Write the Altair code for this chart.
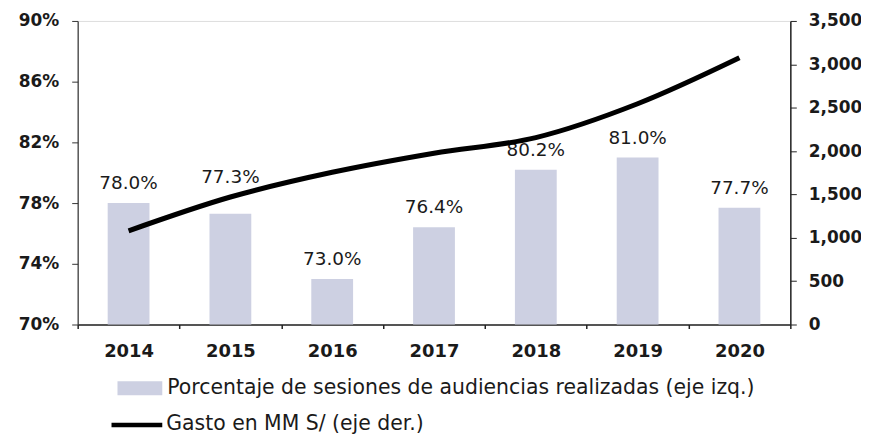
import altair as alt
import pandas as pd

years = ["2014", "2015", "2016", "2017", "2018", "2019", "2020"]
pct_sessions = [78.0, 77.3, 73.0, 76.4, 80.2, 81.0, 77.7]
gasto = [1080, 1470, 1755, 1975, 2155, 2545, 3075]
pct_labels = ["78.0%", "77.3%", "73.0%", "76.4%", "80.2%", "81.0%", "77.7%"]
left_ticks = [70, 74, 78, 82, 86, 90]
right_ticks = [0, 500, 1000, 1500, 2000, 2500, 3000, 3500]
legend_bar = "Porcentaje de sesiones de audiencias realizadas (eje izq.)"
legend_line = "Gasto en MM S/ (eje der.)"

df = pd.DataFrame({"year": years, "pct": pct_sessions, "gasto": gasto, "label": pct_labels})

FONT = "DejaVu Sans"
TXT = "#1a1a1a"
BAR = "#cdd0e2"

x = alt.X("year:N", title=None, sort=years,
          scale=alt.Scale(paddingInner=0, paddingOuter=0),
          axis=alt.Axis(labelAngle=0, labelFont=FONT, labelFontSize=18, labelFontWeight="bold",
                        labelColor=TXT, labelPadding=14, domainColor="#222", domainWidth=1.5,
                        tickBand="extent", tickSize=4, tickColor="#222", tickWidth=1.5))

y_left = alt.Y("pct:Q", title=None,
               scale=alt.Scale(domain=[70, 90], nice=False, zero=False, clamp=True),
               axis=alt.Axis(values=left_ticks, labelExpr="datum.value + '%'", labelFont=FONT,
                             labelFontSize=17, labelFontWeight="bold", labelColor=TXT,
                             labelPadding=13, tickSize=6, tickColor="#333", domainColor="#333",
                             domainWidth=1.2, grid=False))

bars = alt.Chart(df).mark_bar(size=42, color=BAR).encode(x=x, y=y_left)

text_common = dict(font=FONT, fontSize=18.5, color=TXT, baseline="bottom", align="center")
labels = alt.Chart(df).transform_filter("datum.year != '2015'").mark_text(dy=-10, **text_common).encode(
    x=alt.X("year:N", sort=years), y=alt.Y("pct:Q", scale=alt.Scale(domain=[70, 90], nice=False, zero=False)),
    text="label:N")
labels15 = alt.Chart(df).transform_filter("datum.year == '2015'").mark_text(dy=-27, **text_common).encode(
    x=alt.X("year:N", sort=years), y=alt.Y("pct:Q", scale=alt.Scale(domain=[70, 90], nice=False, zero=False)),
    text="label:N")

left = alt.layer(bars, labels, labels15)

line = alt.Chart(df).mark_line(color="#000000", strokeWidth=5, interpolate="monotone").encode(
    x=alt.X("year:N", sort=years),
    y=alt.Y("gasto:Q", title=None,
            scale=alt.Scale(domain=[0, 3500], nice=False),
            axis=alt.Axis(orient="right", values=right_ticks, format=",.0f", labelFont=FONT,
                          labelFontSize=17, labelFontWeight="bold", labelColor=TXT,
                          labelPadding=12, tickSize=6, tickColor="#222", domainColor="#222",
                          domainWidth=1.5, grid=False)))

leg_df = pd.DataFrame({"t": [legend_bar]})
leg_bar_sw = alt.Chart(leg_df).mark_rect(color=BAR).encode(
    x=alt.value(40), x2=alt.value(85), y=alt.value(362), y2=alt.value(376))
leg_bar_tx = alt.Chart(leg_df).mark_text(font=FONT, fontSize=20.5, color=TXT, align="left", baseline="middle").encode(
    x=alt.value(90), y=alt.value(369), text="t:N")
leg_df2 = pd.DataFrame({"t": [legend_line]})
leg_line_sw = alt.Chart(leg_df2).mark_rule(color="#000", strokeWidth=4.5).encode(
    x=alt.value(34), x2=alt.value(85), y=alt.value(406))
leg_line_tx = alt.Chart(leg_df2).mark_text(font=FONT, fontSize=20.5, color=TXT, align="left", baseline="middle").encode(
    x=alt.value(89), y=alt.value(405), text="t:N")

chart = alt.layer(left, line, leg_bar_sw, leg_bar_tx, leg_line_sw, leg_line_tx).resolve_scale(
    y="independent").properties(
    width=716, height=305,
    autosize=alt.AutoSizeParams(type="none"),
    padding={"left": 70, "top": 12, "right": 71, "bottom": 110},
).configure_view(stroke=None).configure(background="white")

chart.save("out.html", embed_options={"renderer": "svg", "actions": False})
